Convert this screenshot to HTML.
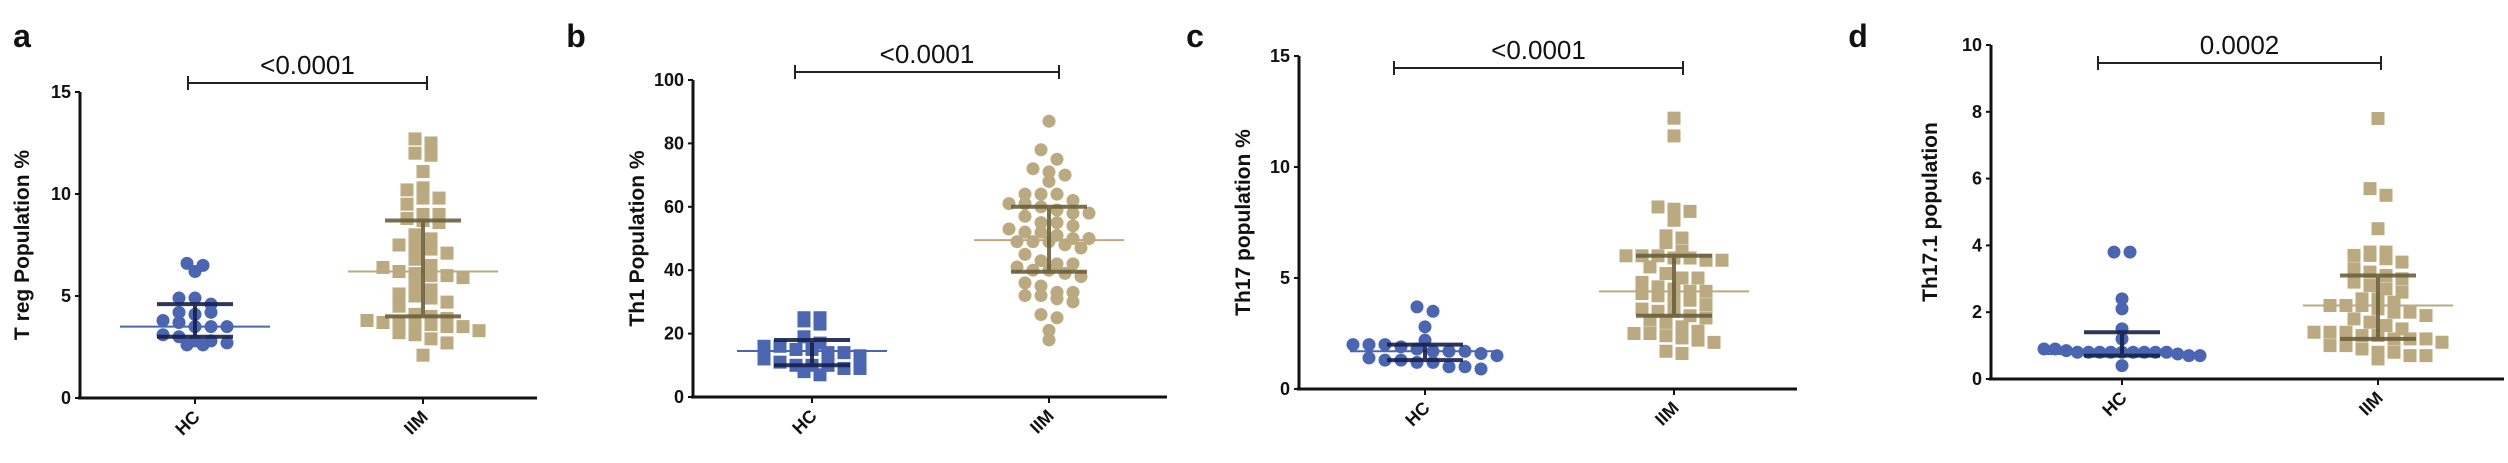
<!DOCTYPE html>
<html><head><meta charset="utf-8">
<style>
html,body{margin:0;padding:0;background:#fff;}
svg{display:block;font-family:"Liberation Sans",Arial,sans-serif;}
</style></head>
<body>
<svg id="fig" width="2508" height="463" viewBox="0 0 2508 463" xmlns="http://www.w3.org/2000/svg"></svg>
<script>
// ---- data ----
const panelLetters = ["a","b","c","d"];
const yTitles = ["T reg Population %","Th1 Population %","Th17 population %","Th17.1 population"];
const pValues = ["<0.0001","<0.0001","<0.0001","0.0002"];
const categories = ["HC","IIM"];
const yMax = [15,100,15,10];
const yTicks = [[0,5,10,15],[0,20,40,60,80,100],[0,5,10,15],[0,2,4,6,8,10]];
const hcA = [6.6,6.5,6.2,4.9,4.9,4.6,4.2,4.1,4.2,3.8,3.7,3.5,3.5,3.5,3.1,3.0,2.8,2.8,2.6,2.6,2.7];
const iimA = [12.7,12.5,12.0,11.9,11.1,10.3,10.2,9.8,9.8,9.5,9.0,9.0,8.8,8.7,8.6,8.0,7.8,7.5,7.4,7.3,7.1,6.8,6.5,6.4,6.2,6.1,6.0,6.0,5.9,5.5,5.3,5.1,5.0,4.9,4.7,4.5,4.1,4.0,3.9,3.8,3.7,3.7,3.6,3.6,3.5,3.5,3.3,3.2,3.1,2.9,2.7,2.1];
const hcB = [25,25,24,23,19,17,16,16,15,15,14,14,13,12,11,10,10,10,9,9,8,7];
const iimB = [87,78,75,72,71,70,68,64,64,64,62,61,61,60,59,58,58,57,55,55,54,53,52,52,51,50,50,49,49,49,48,47,45,43,42,42,41,40,40,39,38,36,35,33,33,32,32,31,30,26,25,21,18];
const hcC = [3.7,3.5,2.8,2.2,2.0,2.0,2.0,1.9,1.8,1.7,1.7,1.7,1.6,1.5,1.4,1.3,1.3,1.2,1.2,1.0,1.0,0.9];
const iimC = [12.2,11.4,8.2,8.1,8.0,7.6,6.9,6.8,6.6,6.2,6.0,6.0,6.0,5.9,5.9,5.8,5.8,5.5,5.2,5.0,5.0,4.8,4.6,4.5,4.4,4.4,4.3,4.2,4.0,4.0,3.8,3.6,3.5,3.5,3.3,3.2,3.1,3.0,2.8,2.6,2.5,2.5,2.4,2.3,2.2,2.1,1.7,1.6];
const hcD = [3.8,3.8,2.4,2.1,1.5,1.2,0.9,0.9,0.85,0.8,0.8,0.8,0.8,0.8,0.8,0.8,0.8,0.8,0.75,0.7,0.7,0.4];
const iimD = [7.8,5.7,5.5,4.5,3.8,3.8,3.7,3.7,3.6,3.5,3.3,3.2,3.1,3.0,2.9,2.8,2.7,2.6,2.4,2.4,2.3,2.2,2.2,2.2,2.1,2.0,2.0,1.9,1.8,1.7,1.6,1.5,1.4,1.4,1.4,1.3,1.3,1.2,1.2,1.2,1.1,1.0,1.0,0.9,0.8,0.8,0.7,0.7,0.6];
const hcCenter = [3.5,14.5,1.7,0.75];
const hcLow = [3.0,10,1.3,0.7];
const hcHigh = [4.6,18,2.0,1.4];
const iimCenter = [6.2,49.5,4.4,2.2];
const iimLow = [4.0,39.5,3.3,1.2];
const iimHigh = [8.7,60,6.0,3.1];
const hcShape = ["circle","square","circle","circle"];
const iimShape = ["square","circle","square","square"];

// ---- layout ----
const L = [
 {ax:80,  y0:398,yT:92, xEnd:537, hc:195,  iim:423,  bx1:188, bx2:427, by:83, lx:22,  tx:21},
 {ax:693, y0:397,yT:80, xEnd:1167,hc:812,  iim:1049, bx1:795, bx2:1059,by:72, lx:576, tx:636},
 {ax:1299,y0:389,yT:56, xEnd:1797,hc:1425, iim:1674, bx1:1394,bx2:1683,by:68, lx:1195,tx:1242},
 {ax:1991,y0:379,yT:45, xEnd:2504,hc:2122, iim:2378, bx1:2098,bx2:2381,by:63, lx:1858,tx:1929}
];
const hcData=[hcA,hcB,hcC,hcD], iimData=[iimA,iimB,iimC,iimD];
const NS="http://www.w3.org/2000/svg";
const svg=document.getElementById('fig');
function mk(tag,attrs,parent){const e=document.createElementNS(NS,tag);for(const k in attrs)e.setAttribute(k,attrs[k]);(parent||svg).appendChild(e);return e;}
const BLUE="#4a65b2", TAN="#bba97f", NAVY="#16204a", OLIVE="#6c5f3c";

function swarm(vals,cx,yf,binH,step,maxHalf){
  const bins={};
  vals.forEach(v=>{const b=Math.round(yf(v)/binH);(bins[b]=bins[b]||[]).push(v);});
  const out=[];
  Object.keys(bins).forEach(b=>{
    const arr=bins[b];const n=arr.length;
    const s=n>1?Math.min(step,2*maxHalf/(n-1)):step;
    arr.forEach((v,k)=>{const off=(k-(n-1)/2)*s;out.push({x:cx+off,y:yf(v)});});
  });
  return out;
}

L.forEach((l,i)=>{
  const g=mk('g',{});
  
  
  const yf=v=>l.y0-(v/yMax[i])*(l.y0-l.yT);
  const lt=mk('text',{x:l.lx,y:47,'font-size':32,'font-weight':'bold','text-anchor':'middle',fill:'#111'},g);
  lt.textContent=panelLetters[i];
  
  
  const ya=mk('line',{x1:l.ax,y1:l.yT,x2:l.ax,y2:l.y0+1,stroke:'#111','stroke-width':3},g);
  
  
  const xa=mk('line',{x1:l.ax-2,y1:l.y0,x2:l.xEnd,y2:l.y0,stroke:'#111','stroke-width':3},g);
  
  
  yTicks[i].forEach(t=>{
    const y=yf(t);
    mk('line',{x1:l.ax-5,y1:y,x2:l.ax,y2:y,stroke:'#111','stroke-width':2},g);
    const tx=mk('text',{x:l.ax-9,y:y+6,'font-size':18,'font-weight':'bold','text-anchor':'end',fill:'#111'},g);
    tx.textContent=t;
    
    
  });
  const yt=mk('text',{x:0,y:0,'font-size':21,'font-weight':'bold','text-anchor':'middle',fill:'#111',transform:`translate(${l.tx+8},${(l.yT+l.y0)/2}) rotate(-90)`},g);
  yt.textContent=yTitles[i];
  
  
  [l.hc,l.iim].forEach((cx,j)=>{
    mk('line',{x1:cx,y1:l.y0,x2:cx,y2:l.y0+6,stroke:'#111','stroke-width':2},g);
    const xl=mk('text',{x:0,y:0,'font-size':18,'font-weight':'bold','text-anchor':'end',fill:'#111',transform:`translate(${cx+6},${l.y0+20}) rotate(-45)`},g);
    xl.textContent=categories[j];
    
    
  });
  const br=mk('path',{d:`M${l.bx1},${l.by-7}V${l.by+7}M${l.bx1},${l.by}H${l.bx2}M${l.bx2},${l.by-7}V${l.by+7}`,stroke:'#222','stroke-width':2,fill:'none'},g);
  
  
  const pv=mk('text',{x:(l.bx1+l.bx2)/2,y:l.by-9,'font-size':26,'text-anchor':'middle',fill:'#111'},g);
  pv.textContent=pValues[i];
  
  
  [[hcData[i],l.hc,BLUE,hcShape[i],'hc'],[iimData[i],l.iim,TAN,iimShape[i],'iim']].forEach(([vals,cx,col,shape,nm])=>{
    swarm(vals,cx,yf,13,16,78).forEach(p=>{
      let m;
      if(shape==='circle') m=mk('circle',{cx:p.x,cy:p.y,r:6.5,fill:col},g);
      else m=mk('rect',{x:p.x-6.5,y:p.y-6.5,width:13,height:13,fill:col},g);
      
      
    });
  });
  [[l.hc,hcCenter[i],hcLow[i],hcHigh[i],BLUE,NAVY,'hc'],[l.iim,iimCenter[i],iimLow[i],iimHigh[i],TAN,OLIVE,'iim']].forEach(([cx,c,lo,hi,col,dk,nm])=>{
    const cl=mk('line',{x1:cx-75,y1:yf(c),x2:cx+75,y2:yf(c),stroke:col,'stroke-width':2},g);
    
    
    const eb=mk('path',{d:`M${cx-38},${yf(hi)}H${cx+38}M${cx},${yf(hi)}V${yf(lo)}M${cx-38},${yf(lo)}H${cx+38}`,stroke:dk,'stroke-width':4,fill:'none','stroke-opacity':0.9},g);
    
    
  });
});
</script>
</body></html>
